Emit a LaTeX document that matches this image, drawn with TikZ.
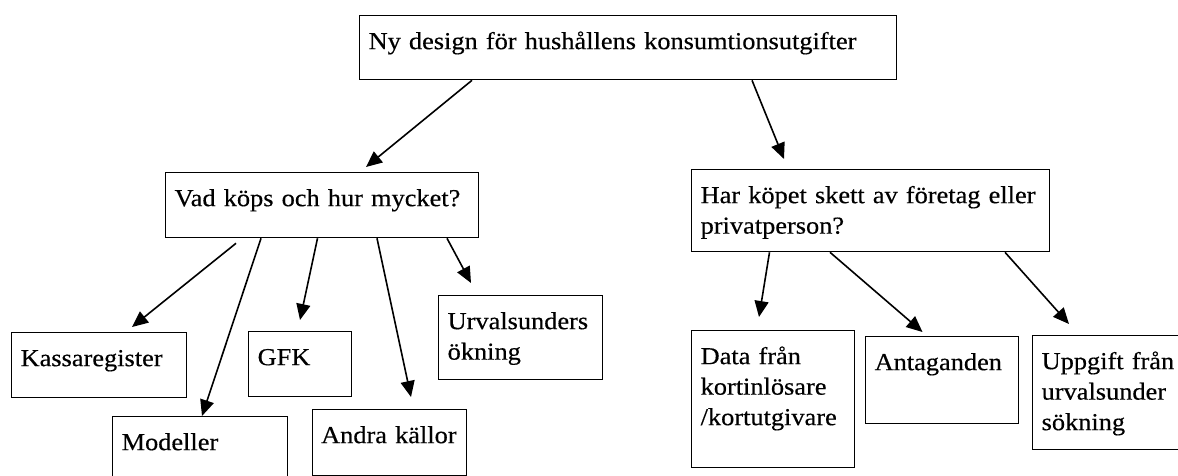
\documentclass[tikz,border=0pt]{standalone}
\usepackage{fontspec}
\setmainfont{Liberation Serif}[FakeStretch=1.08, FakeBold=0.4]
\usetikzlibrary{arrows.meta}

\begin{document}
\begin{tikzpicture}[
  x=0.5pt, y=-0.5pt,
  box_node/.style={draw, line width=0.65pt, anchor=north west, inner xsep=4.5pt, inner ysep=0pt,
    align=left, text height=16.75pt, font=\fontsize{12.2pt}{15.25pt}\selectfont},
  flow_arrow/.style={line width=0.8pt, -{Triangle[length=8pt, width=7pt]}},
]
\useasboundingbox (0,0) rectangle (1178,476);
% boxes
\draw (359,15) node (ny) [box_node, text width=259.5pt, text depth=15.25pt] {Ny design för hushållens konsumtionsutgifter};
\draw (165,172) node (vad) [box_node, text width=147.5pt, text depth=15.75pt] {Vad köps och hur mycket?};
\draw (691,169) node (har) [box_node, text width=170pt, text depth=24.25pt] {Har köpet skett av företag eller\\privatperson?};
\draw (11,332) node (kassa) [box_node, text width=78.5pt, text depth=15.75pt] {Kassaregister};
\draw (112,416) node (modeller) [box_node, text width=78.5pt, text depth=33.25pt] {Modeller};
\draw (248,331) node (gfk) [box_node, text width=42.5pt, text depth=15.75pt] {GFK};
\draw (311.5,409) node (andra) [box_node, text width=68pt, text depth=16.25pt] {Andra källor};
\draw (438,295) node (urval) [box_node, text width=73pt, text depth=25.25pt] {Urvalsunders\\ökning};
\draw (691,330) node (data) [box_node, text width=72.5pt, text depth=51.75pt] {Data från\\kortinlösare\\/kortutgivare};
\draw (865,336) node (antag) [box_node, text width=67.5pt, text depth=26.75pt] {Antaganden};
\draw (1032,335) node (uppgift) [box_node, text width=81pt, text depth=40.25pt] {Uppgift från\\urvalsunder\\sökning};
% arrows
\draw [flow_arrow] ([shift={(113,0)}]ny.south west) -- ([shift={(201,-5)}]vad.north west);
\draw [flow_arrow] ([shift={(393,0)}]ny.south west) -- ([shift={(93,-10)}]har.north west);
\draw [flow_arrow] ([shift={(71,5)}]vad.south west) -- ([shift={(121,-5)}]kassa.north west);
\draw [flow_arrow] ([shift={(96,0)}]vad.south west) -- ([shift={(90,0)}]modeller.north west);
\draw [flow_arrow] ([shift={(152.5,0)}]vad.south west) -- ([shift={(52,-11)}]gfk.north west);
\draw [flow_arrow] ([shift={(212,0)}]vad.south west) -- ([shift={(99.5,-12)}]andra.north west);
\draw [flow_arrow] ([shift={(282,0)}]vad.south west) -- ([shift={(33,-12)}]urval.north west);
\draw [flow_arrow] ([shift={(78.5,0)}]har.south west) -- ([shift={(68,-13)}]data.north west);
\draw [flow_arrow] ([shift={(139,0)}]har.south west) -- ([shift={(57.5,-4)}]antag.north west);
\draw [flow_arrow] ([shift={(314,0)}]har.south west) -- ([shift={(37,-11)}]uppgift.north west);
\end{tikzpicture}
\end{document}
